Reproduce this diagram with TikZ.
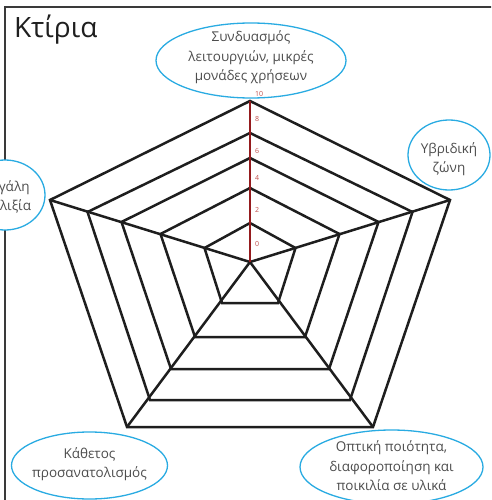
\documentclass[tikz,border=0pt]{standalone}
\usepackage{fontspec}
\setmainfont{Open Sans}
\usetikzlibrary{shapes.geometric}
\definecolor{bubblecol}{HTML}{29ABE2}
\definecolor{txtgray}{HTML}{4D4D4D}
\definecolor{axisred}{HTML}{951B1E}
\definecolor{lblred}{HTML}{C0504D}
\definecolor{linecol}{HTML}{1E1E1E}
\definecolor{framecol}{HTML}{3A3A3A}
\tikzset{
  ringline/.style={draw=linecol, line width=2.5pt, line join=miter},
  spokeline/.style={draw=linecol, line width=2.5pt},
  axisline/.style={draw=axisred, line width=2.8pt},
  bubble/.style={draw=bubblecol, fill=white, line width=1.3pt, ellipse, inner sep=0pt},
  bubbletext/.style={text=txtgray, align=center, inner sep=0pt, font=\fontsize{13.5}{19.5}\selectfont},
  ticklbl/.style={text=lblred, anchor=west, inner sep=0pt, font=\fontsize{7}{8}\selectfont},
}
\begin{document}
\begin{tikzpicture}[x=1pt,y=-1pt]
\useasboundingbox (0,0) rectangle (491,500);
\clip (0,0) rectangle (491,500);
\fill[white] (0,0) rectangle (491,500);
% frame
\coordinate (fbl) at (5,505);
\coordinate (ftl) at (5,7);
\coordinate (ftr) at (496,7);
\draw[framecol, line width=1.3pt] (fbl) -- (ftl) -- (ftr);
% title
\node[anchor=base west, inner sep=0pt, text=black!88, font=\fontsize{28}{30}\selectfont] (title) at (14,38) {Κτίρια};
% centre
\coordinate (c) at (250,262);
% ring vertices: t=top, ur, lr, ll, ul
\coordinate (t1) at (250,223); \coordinate (ur1) at (295.5,248); \coordinate (lr1) at (278,303); \coordinate (ll1) at (222,303); \coordinate (ul1) at (204.5,248);
\coordinate (t2) at (250,188); \coordinate (ur2) at (339.5,234); \coordinate (lr2) at (305,337); \coordinate (ll2) at (195,337); \coordinate (ul2) at (160.5,234);
\coordinate (t3) at (250,158); \coordinate (ur3) at (378.5,222); \coordinate (lr3) at (329,369); \coordinate (ll3) at (171,369); \coordinate (ul3) at (121.5,222);
\coordinate (t4) at (250,133); \coordinate (ur4) at (412.5,212); \coordinate (lr4) at (350,400); \coordinate (ll4) at (150,400); \coordinate (ul4) at (87.5,212);
\coordinate (t5) at (250,101); \coordinate (ur5) at (450,200); \coordinate (lr5) at (373,427); \coordinate (ll5) at (127,427); \coordinate (ul5) at (50,200);
% rings
\foreach \i in {1,...,5}{
  \draw[ringline] (t\i) -- (ur\i) -- (lr\i) -- (ll\i) -- (ul\i) -- cycle;
}
% spokes
\draw[spokeline] (c) -- (ur5);
\draw[spokeline] (c) -- (lr5);
\draw[spokeline] (c) -- (ll5);
\draw[spokeline] (c) -- (ul5);
\draw[axisline] (c) -- (t5);
% bubbles
\node[bubble, minimum width=190pt, minimum height=75pt] (btop) at (251,60.5) {};
\node[bubbletext] (btopt) at (251,57.5) {Συνδυασμός\\λειτουργιών, μικρές\\μονάδες χρήσεων};
\node[bubble, minimum width=82pt, minimum height=70pt] (bright) at (449,155) {};
\node[bubbletext] (brightt) at (449,159) {Υβριδική\\ζώνη};
\node[bubble, minimum width=80pt, minimum height=70pt] (bleft) at (5,195) {};
\node[bubbletext] (bleftt) at (5,197) {Μεγάλη\\ευελιξία};
\node[bubble, minimum width=156pt, minimum height=67pt] (bbl) at (89.5,465.5) {};
\node[bubbletext] (bblt) at (89.5,464) {Κάθετος\\προσανατολισμός};
\node[bubble, minimum width=183pt, minimum height=74pt] (bbr) at (391.5,467) {};
\node[bubbletext] (bbrt) at (391.5,466) {Οπτική ποιότητα,\\διαφοροποίηση και\\ποικιλία σε υλικά};
% tick labels
\node[ticklbl] (l0) at (255,244) {0};
\node[ticklbl] (l2) at (255,210) {2};
\node[ticklbl] (l4) at (255,178) {4};
\node[ticklbl] (l6) at (255,151) {6};
\node[ticklbl] (l8) at (255,119) {8};
\node[ticklbl] (l10) at (255,94) {10};
\end{tikzpicture}
\end{document}
